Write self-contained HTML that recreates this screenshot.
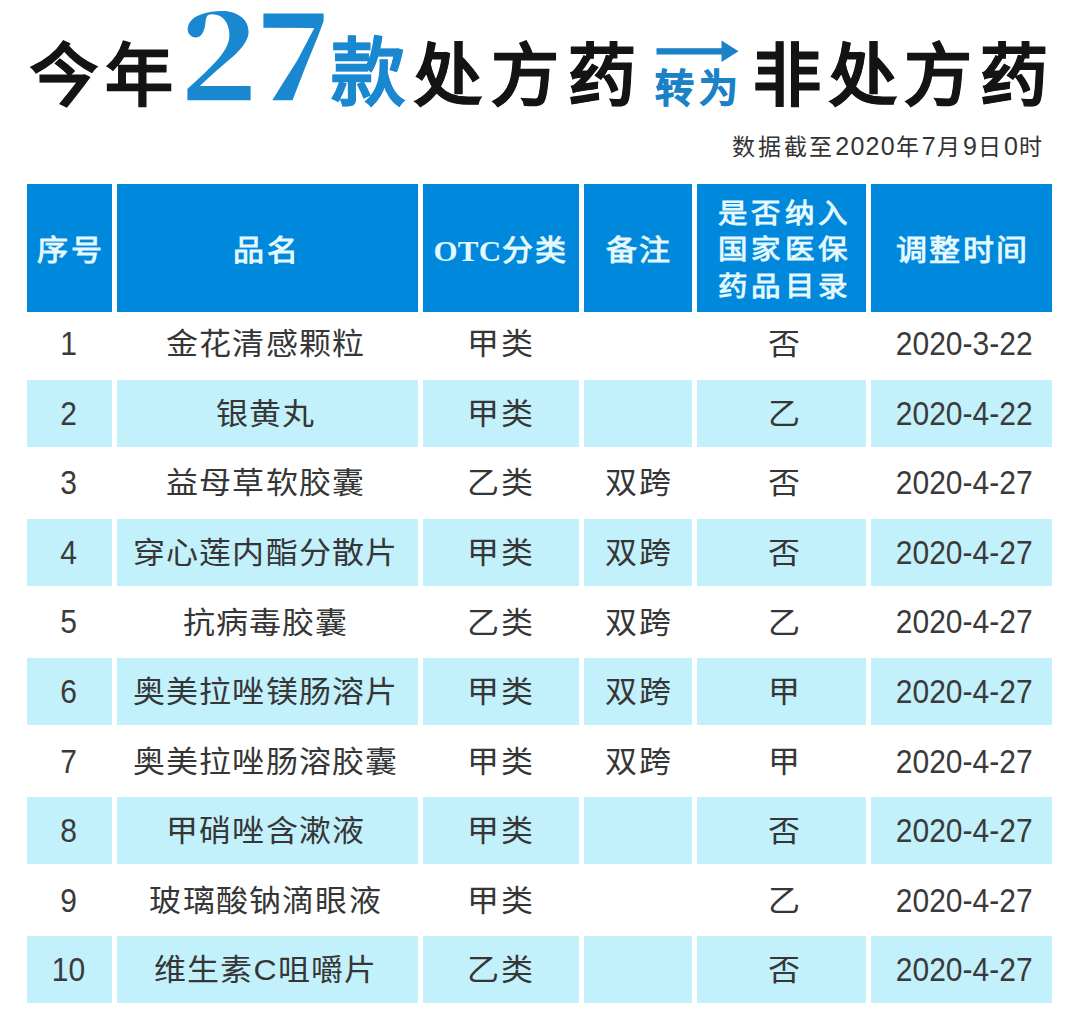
<!DOCTYPE html>
<html lang="zh-CN"><head><meta charset="utf-8"><title>今年27款处方药转为非处方药</title>
<style>
html,body{margin:0;padding:0;background:#fff;}
body{width:1080px;height:1012px;position:relative;overflow:hidden;font-family:"Liberation Sans",sans-serif;}
.t{position:absolute;white-space:nowrap;line-height:1;}
.big{font-family:"Liberation Serif",serif;font-weight:700;color:#141414;font-size:68px;-webkit-text-stroke:0.7px currentColor;}
.blue{color:#1a88d0;}
.dg{font-family:"Liberation Serif",serif;font-weight:700;font-size:134px;transform-origin:0 0;}
.c{position:absolute;box-sizing:border-box;display:flex;align-items:center;justify-content:center;text-align:center;white-space:nowrap;}
.h{background:#0089dc;color:#e3f8ff;font-family:"Liberation Serif",serif;font-weight:700;font-size:31px;line-height:36.5px;letter-spacing:2.5px;}
.h span{display:block;font-size:29.5px;letter-spacing:3.5px;transform:scaleY(.93);}
.h b{letter-spacing:0.3px;}
.h i{font-style:normal;display:inline-block;transform:scaleY(.94);}
.lb{background:#c2f0fb;}
.sub u{text-decoration:none;font-size:25px;letter-spacing:1.3px;}
.d{color:#363636;font-size:32px;line-height:1;letter-spacing:1.2px;}
.d i{font-style:normal;display:inline-block;transform:scaleY(.94);}
.d.n{font-size:30px;letter-spacing:0;color:#3a3a3a;}
.d.n i{transform-origin:50% 0;transform:scaleY(1.08);}
</style></head><body>
<div class="t big" style="left:29.5px;top:43px;letter-spacing:7.6px">今年</div>
<svg class="t" style="left:0;top:0" width="340" height="110" viewBox="0 0 340 110"><g fill="#1a88d0"><path d="M187.4,100.3 L250.6,100.3 L250.6,86 L199.8,86 C210,76 225,63 235.3,54.4 C244,46 249,38 248.6,31 C248,18 236,11 222,11 C207,11 195,15 190,22 C186,28 187,36 195,37.6 C202,38 205,30 205.5,22 C206,17 207,15 210,14.4 C222,13 229,22 229.4,34.6 C229.5,48 220,58 204.7,73.1 L187.4,89 Z"/><path d="M263.4,13.4 L323.6,13.4 L323.6,21 L318.5,35 L305,68 L292.5,100.3 L272.3,100.3 L283,83 L297.5,60 L314.3,28 L263.4,27.7 Z"/></g></svg>
<div class="t big blue" style="left:331px;top:37px;font-size:74px">款</div>
<div class="t big" style="left:413.5px;top:43px;letter-spacing:9px">处方药</div>
<svg class="t" style="left:650px;top:36px" width="95" height="30" viewBox="650 36 95 30"><rect x="656.5" y="48.2" width="67" height="6.3" fill="#1b82c8"/><polygon points="721.5,40.5 738.5,51.3 721.5,62" fill="#1b82c8"/></svg>
<div class="t blue" style="left:655px;top:68.5px;font-family:'Liberation Serif',serif;font-weight:700;font-size:39px;color:#1b82c8;letter-spacing:5px;-webkit-text-stroke:0.8px #1b82c8">转为</div>
<div class="t big" style="left:753px;top:43px;letter-spacing:7.7px">非处方药</div>
<div class="t sub" style="left:732px;top:134px;font-size:23px;color:#333;letter-spacing:2.8px">数据截至<u>2020</u>年<u>7</u>月<u>9</u>日<u>0</u>时</div>
<div class="c h" style="left:27px;top:184px;width:85px;height:128px;padding-left:2.5px;padding-top:9px;"><i>序号</i></div>
<div class="c h" style="left:117px;top:184px;width:301px;height:128px;padding-left:2.5px;padding-left:0;padding-right:2px;padding-top:9px;"><i>品名</i></div>
<div class="c h" style="left:423px;top:184px;width:156px;height:128px;padding-left:2.5px;padding-left:0;padding-top:9px;"><i><b>OTC</b>分类</i></div>
<div class="c h" style="left:584px;top:184px;width:108px;height:128px;padding-left:2.5px;padding-top:9px;"><i>备注</i></div>
<div class="c h" style="left:697px;top:184px;width:169px;height:128px;padding-left:2.5px;flex-direction:column;padding-left:6px;padding-top:5px;"><span>是否纳入</span><span>国家医保</span><span>药品目录</span></div>
<div class="c h" style="left:871px;top:184px;width:181px;height:128px;padding-left:2.5px;padding-top:9px;"><i>调整时间</i></div>
<div class="c d n" style="left:26.0px;top:313.2px;width:85px;height:60px"><i>1</i></div>
<div class="c d" style="left:114.5px;top:313.2px;width:301px;height:60px;padding-left:1.2px;margin-top:1.2px"><i>金花清感颗粒</i></div>
<div class="c d" style="left:422.0px;top:313.2px;width:156px;height:60px;padding-left:1.2px;margin-top:1.2px"><i>甲类</i></div>
<div class="c d" style="left:699.5px;top:313.2px;width:169px;height:60px;padding-left:1.2px;margin-top:1.2px"><i>否</i></div>
<div class="c d n" style="left:873.7px;top:313.2px;width:181px;height:60px"><i>2020-3-22</i></div>
<div class="c lb" style="left:27px;top:380px;width:85px;height:67px"></div>
<div class="c lb" style="left:117px;top:380px;width:301px;height:67px"></div>
<div class="c lb" style="left:423px;top:380px;width:156px;height:67px"></div>
<div class="c lb" style="left:584px;top:380px;width:108px;height:67px"></div>
<div class="c lb" style="left:697px;top:380px;width:169px;height:67px"></div>
<div class="c lb" style="left:871px;top:380px;width:181px;height:67px"></div>
<div class="c d n" style="left:26.0px;top:382.8px;width:85px;height:60px"><i>2</i></div>
<div class="c d" style="left:114.5px;top:382.8px;width:301px;height:60px;padding-left:1.2px;margin-top:1.2px"><i>银黄丸</i></div>
<div class="c d" style="left:422.0px;top:382.8px;width:156px;height:60px;padding-left:1.2px;margin-top:1.2px"><i>甲类</i></div>
<div class="c d" style="left:699.5px;top:382.8px;width:169px;height:60px;padding-left:1.2px;margin-top:1.2px"><i>乙</i></div>
<div class="c d n" style="left:873.7px;top:382.8px;width:181px;height:60px"><i>2020-4-22</i></div>
<div class="c d n" style="left:26.0px;top:452.3px;width:85px;height:60px"><i>3</i></div>
<div class="c d" style="left:114.5px;top:452.3px;width:301px;height:60px;padding-left:1.2px;margin-top:1.2px"><i>益母草软胶囊</i></div>
<div class="c d" style="left:422.0px;top:452.3px;width:156px;height:60px;padding-left:1.2px;margin-top:1.2px"><i>乙类</i></div>
<div class="c d" style="left:584.0px;top:452.3px;width:108px;height:60px;padding-left:1.2px;margin-top:1.2px"><i>双跨</i></div>
<div class="c d" style="left:699.5px;top:452.3px;width:169px;height:60px;padding-left:1.2px;margin-top:1.2px"><i>否</i></div>
<div class="c d n" style="left:873.7px;top:452.3px;width:181px;height:60px"><i>2020-4-27</i></div>
<div class="c lb" style="left:27px;top:519px;width:85px;height:67px"></div>
<div class="c lb" style="left:117px;top:519px;width:301px;height:67px"></div>
<div class="c lb" style="left:423px;top:519px;width:156px;height:67px"></div>
<div class="c lb" style="left:584px;top:519px;width:108px;height:67px"></div>
<div class="c lb" style="left:697px;top:519px;width:169px;height:67px"></div>
<div class="c lb" style="left:871px;top:519px;width:181px;height:67px"></div>
<div class="c d n" style="left:26.0px;top:521.9px;width:85px;height:60px"><i>4</i></div>
<div class="c d" style="left:114.5px;top:521.9px;width:301px;height:60px;padding-left:1.2px;margin-top:1.2px"><i>穿心莲内酯分散片</i></div>
<div class="c d" style="left:422.0px;top:521.9px;width:156px;height:60px;padding-left:1.2px;margin-top:1.2px"><i>甲类</i></div>
<div class="c d" style="left:584.0px;top:521.9px;width:108px;height:60px;padding-left:1.2px;margin-top:1.2px"><i>双跨</i></div>
<div class="c d" style="left:699.5px;top:521.9px;width:169px;height:60px;padding-left:1.2px;margin-top:1.2px"><i>否</i></div>
<div class="c d n" style="left:873.7px;top:521.9px;width:181px;height:60px"><i>2020-4-27</i></div>
<div class="c d n" style="left:26.0px;top:591.4px;width:85px;height:60px"><i>5</i></div>
<div class="c d" style="left:114.5px;top:591.4px;width:301px;height:60px;padding-left:1.2px;margin-top:1.2px"><i>抗病毒胶囊</i></div>
<div class="c d" style="left:422.0px;top:591.4px;width:156px;height:60px;padding-left:1.2px;margin-top:1.2px"><i>乙类</i></div>
<div class="c d" style="left:584.0px;top:591.4px;width:108px;height:60px;padding-left:1.2px;margin-top:1.2px"><i>双跨</i></div>
<div class="c d" style="left:699.5px;top:591.4px;width:169px;height:60px;padding-left:1.2px;margin-top:1.2px"><i>乙</i></div>
<div class="c d n" style="left:873.7px;top:591.4px;width:181px;height:60px"><i>2020-4-27</i></div>
<div class="c lb" style="left:27px;top:658px;width:85px;height:67px"></div>
<div class="c lb" style="left:117px;top:658px;width:301px;height:67px"></div>
<div class="c lb" style="left:423px;top:658px;width:156px;height:67px"></div>
<div class="c lb" style="left:584px;top:658px;width:108px;height:67px"></div>
<div class="c lb" style="left:697px;top:658px;width:169px;height:67px"></div>
<div class="c lb" style="left:871px;top:658px;width:181px;height:67px"></div>
<div class="c d n" style="left:26.0px;top:661.0px;width:85px;height:60px"><i>6</i></div>
<div class="c d" style="left:114.5px;top:661.0px;width:301px;height:60px;padding-left:1.2px;margin-top:1.2px"><i>奥美拉唑镁肠溶片</i></div>
<div class="c d" style="left:422.0px;top:661.0px;width:156px;height:60px;padding-left:1.2px;margin-top:1.2px"><i>甲类</i></div>
<div class="c d" style="left:584.0px;top:661.0px;width:108px;height:60px;padding-left:1.2px;margin-top:1.2px"><i>双跨</i></div>
<div class="c d" style="left:699.5px;top:661.0px;width:169px;height:60px;padding-left:1.2px;margin-top:1.2px"><i>甲</i></div>
<div class="c d n" style="left:873.7px;top:661.0px;width:181px;height:60px"><i>2020-4-27</i></div>
<div class="c d n" style="left:26.0px;top:730.6px;width:85px;height:60px"><i>7</i></div>
<div class="c d" style="left:114.5px;top:730.6px;width:301px;height:60px;padding-left:1.2px;margin-top:1.2px"><i>奥美拉唑肠溶胶囊</i></div>
<div class="c d" style="left:422.0px;top:730.6px;width:156px;height:60px;padding-left:1.2px;margin-top:1.2px"><i>甲类</i></div>
<div class="c d" style="left:584.0px;top:730.6px;width:108px;height:60px;padding-left:1.2px;margin-top:1.2px"><i>双跨</i></div>
<div class="c d" style="left:699.5px;top:730.6px;width:169px;height:60px;padding-left:1.2px;margin-top:1.2px"><i>甲</i></div>
<div class="c d n" style="left:873.7px;top:730.6px;width:181px;height:60px"><i>2020-4-27</i></div>
<div class="c lb" style="left:27px;top:797px;width:85px;height:67px"></div>
<div class="c lb" style="left:117px;top:797px;width:301px;height:67px"></div>
<div class="c lb" style="left:423px;top:797px;width:156px;height:67px"></div>
<div class="c lb" style="left:584px;top:797px;width:108px;height:67px"></div>
<div class="c lb" style="left:697px;top:797px;width:169px;height:67px"></div>
<div class="c lb" style="left:871px;top:797px;width:181px;height:67px"></div>
<div class="c d n" style="left:26.0px;top:800.1px;width:85px;height:60px"><i>8</i></div>
<div class="c d" style="left:114.5px;top:800.1px;width:301px;height:60px;padding-left:1.2px;margin-top:1.2px"><i>甲硝唑含漱液</i></div>
<div class="c d" style="left:422.0px;top:800.1px;width:156px;height:60px;padding-left:1.2px;margin-top:1.2px"><i>甲类</i></div>
<div class="c d" style="left:699.5px;top:800.1px;width:169px;height:60px;padding-left:1.2px;margin-top:1.2px"><i>否</i></div>
<div class="c d n" style="left:873.7px;top:800.1px;width:181px;height:60px"><i>2020-4-27</i></div>
<div class="c d n" style="left:26.0px;top:869.7px;width:85px;height:60px"><i>9</i></div>
<div class="c d" style="left:114.5px;top:869.7px;width:301px;height:60px;padding-left:1.2px;margin-top:1.2px"><i>玻璃酸钠滴眼液</i></div>
<div class="c d" style="left:422.0px;top:869.7px;width:156px;height:60px;padding-left:1.2px;margin-top:1.2px"><i>甲类</i></div>
<div class="c d" style="left:699.5px;top:869.7px;width:169px;height:60px;padding-left:1.2px;margin-top:1.2px"><i>乙</i></div>
<div class="c d n" style="left:873.7px;top:869.7px;width:181px;height:60px"><i>2020-4-27</i></div>
<div class="c lb" style="left:27px;top:936px;width:85px;height:67px"></div>
<div class="c lb" style="left:117px;top:936px;width:301px;height:67px"></div>
<div class="c lb" style="left:423px;top:936px;width:156px;height:67px"></div>
<div class="c lb" style="left:584px;top:936px;width:108px;height:67px"></div>
<div class="c lb" style="left:697px;top:936px;width:169px;height:67px"></div>
<div class="c lb" style="left:871px;top:936px;width:181px;height:67px"></div>
<div class="c d n" style="left:26.0px;top:939.2px;width:85px;height:60px"><i>10</i></div>
<div class="c d" style="left:114.5px;top:939.2px;width:301px;height:60px;padding-left:1.2px;margin-top:1.2px"><i>维生素C咀嚼片</i></div>
<div class="c d" style="left:422.0px;top:939.2px;width:156px;height:60px;padding-left:1.2px;margin-top:1.2px"><i>乙类</i></div>
<div class="c d" style="left:699.5px;top:939.2px;width:169px;height:60px;padding-left:1.2px;margin-top:1.2px"><i>否</i></div>
<div class="c d n" style="left:873.7px;top:939.2px;width:181px;height:60px"><i>2020-4-27</i></div>
</body></html>
